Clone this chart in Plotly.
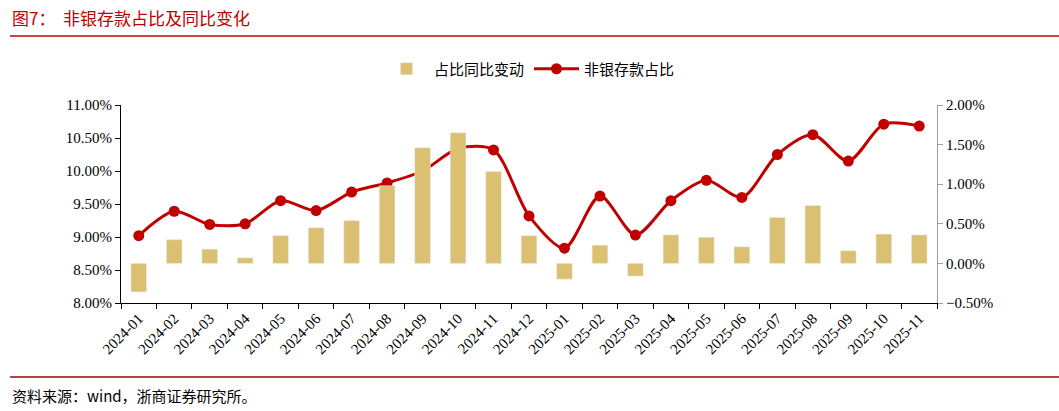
import plotly.graph_objects as go

# -- Dados
meses = ['2024-01', '2024-02', '2024-03', '2024-04', '2024-05', '2024-06',
         '2024-07', '2024-08', '2024-09', '2024-10', '2024-11', '2024-12',
         '2025-01', '2025-02', '2025-03', '2025-04', '2025-05', '2025-06',
         '2025-07', '2025-08', '2025-09', '2025-10', '2025-11']
variacao_yoy = [-0.36, 0.30, 0.18, 0.07, 0.35, 0.45, 0.54, 0.98, 1.46, 1.65,
                1.16, 0.35, -0.20, 0.23, -0.16, 0.36, 0.33, 0.21, 0.58, 0.73,
                0.16, 0.37, 0.36]
participacao = [9.02, 9.39, 9.19, 9.20, 9.55, 9.40, 9.68, 9.82, 10.00, 10.34,
                10.32, 9.32, 8.83, 9.62, 9.03, 9.55, 9.86, 9.60, 10.25, 10.55,
                10.15, 10.71, 10.68]

VERMELHO = '#C00000'
DOURADO = '#DBC072'
fonte_serif = 'Liberation Serif, Times New Roman, serif'
fonte_cjk = 'Noto Sans CJK SC, sans-serif'

W, H = 1059, 411

fig = go.Figure()

# -- Barras (eixo direito)
fig.add_trace(go.Bar(
    x=meses, y=variacao_yoy, name='占比同比变动',
    marker_color=DOURADO, width=0.44, yaxis='y2'
))

# -- Linha (eixo esquerdo)
fig.add_trace(go.Scatter(
    x=meses, y=participacao, name='非银存款占比', mode='lines+markers',
    line=dict(color=VERMELHO, width=3, shape='spline', smoothing=0.8),
    marker=dict(color=VERMELHO, size=11), yaxis='y'
))

fig.update_layout(
    width=W, height=H,
    margin=dict(l=121, r=122, t=105, b=108),
    paper_bgcolor='white', plot_bgcolor='white',
    font=dict(family=fonte_serif, size=15, color='black'),
    showlegend=True,
    legend=dict(orientation='h', x=0.5, xanchor='center', xref='container',
                y=1 - 69 / H, yanchor='middle', yref='container',
                font=dict(family=fonte_cjk, size=15), traceorder='normal',
                itemwidth=45),
    xaxis=dict(
        type='category', range=[-0.5, len(meses) - 0.5],
        showline=True, linecolor='black', linewidth=1,
        ticks='outside', tickson='boundaries', ticklen=5, tickcolor='black',
        tickangle=-45, tickfont=dict(size=15), showgrid=False, automargin=False
    ),
    yaxis=dict(
        range=[8, 11], dtick=0.5, tickformat='.2f', ticksuffix='%',
        showline=True, linecolor='black', linewidth=1, ticks='outside',
        ticklen=5, tickcolor='black', showgrid=False, zeroline=False,
        automargin=False
    ),
    yaxis2=dict(
        range=[-0.5, 2.0], dtick=0.5, tickformat='.2f', ticksuffix='%',
        overlaying='y', side='right', showline=True, linecolor='#A0A0A0',
        linewidth=1, ticks='outside', ticklen=5, tickcolor='#A0A0A0',
        showgrid=False, zeroline=False, automargin=False
    ),
    shapes=[
        dict(type='line', xref='paper', yref='paper',
             x0=-(121 - 10) / 816, x1=(W - 121) / 816,
             y0=1.0 + (105 - 36) / 198, y1=1.0 + (105 - 36) / 198,
             line=dict(color=VERMELHO, width=1.5)),
        dict(type='line', xref='paper', yref='paper',
             x0=-(121 - 10) / 816, x1=(W - 121) / 816,
             y0=-(377 - 303) / 198, y1=-(377 - 303) / 198,
             line=dict(color='#A00000', width=1.5)),
    ],
    annotations=[
        dict(text='图7：  非银存款占比及同比变化', xref='paper', yref='paper',
             x=-(121 - 10) / 816, y=1.0 + (105 - 18) / 198, xanchor='left',
             yanchor='middle', showarrow=False,
             font=dict(family=fonte_cjk, size=17, color=VERMELHO)),
        dict(text='资料来源：wind，浙商证券研究所。', xref='paper', yref='paper',
             x=-(121 - 10) / 816, y=-(395 - 303) / 198, xanchor='left',
             yanchor='middle', showarrow=False,
             font=dict(family=fonte_cjk, size=15, color='black')),
    ],
)

# tira a margem padrao do body para o grafico ficar em (0, 0)
fig.write_html('out.html', config={'displayModeBar': False},
               post_script="document.body.style.margin='0';")
